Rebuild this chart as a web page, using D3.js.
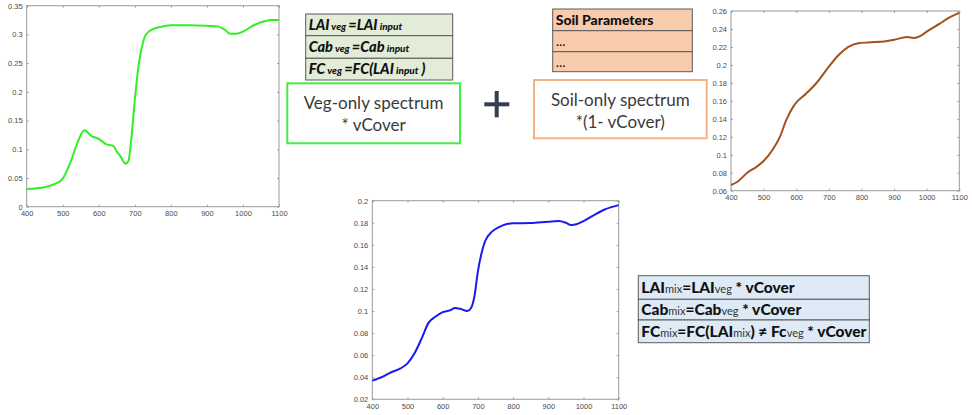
<!DOCTYPE html>
<html><head><meta charset="utf-8">
<script src="https://cdn.jsdelivr.net/npm/d3@7"></script>
<style>
html,body{margin:0;padding:0;background:#fff;}
svg{display:block;}
</style></head>
<body>
<svg id="c" width="972" height="415"></svg>
<script>
// ---------- DATA ----------
const wavelengths_veg = [400,450,480,500,520,540,560,580,600,620,640,650,660,668,675,682,690,700,710,720,730,750,770,800,850,900,930,950,965,980,1000,1030,1060,1080,1100];
const veg_values      = [0.031,0.034,0.040,0.049,0.075,0.110,0.133,0.123,0.118,0.109,0.106,0.096,0.088,0.079,0.075,0.079,0.116,0.186,0.244,0.279,0.299,0.309,0.313,0.316,0.316,0.315,0.314,0.308,0.301,0.301,0.305,0.316,0.323,0.325,0.325];

const wavelengths_soil = [400,420,450,480,500,530,550,570,590,600,630,660,700,730,760,790,820,870,900,940,960,980,1000,1040,1070,1100];
const soil_values      = [0.0663,0.070,0.080,0.087,0.093,0.107,0.120,0.139,0.153,0.158,0.168,0.179,0.198,0.211,0.220,0.224,0.225,0.226,0.228,0.231,0.230,0.232,0.237,0.246,0.253,0.258];

const wavelengths_mix = [400,430,450,480,500,520,540,560,580,600,620,635,650,670,680,690,700,710,720,740,760,780,800,850,900,930,950,965,980,1000,1030,1060,1100];
const mix_values      = [0.0369,0.0405,0.044,0.048,0.0526,0.0617,0.075,0.0895,0.095,0.099,0.1006,0.1028,0.102,0.100,0.1025,0.113,0.136,0.152,0.163,0.172,0.176,0.1786,0.1795,0.1797,0.181,0.1816,0.180,0.178,0.1786,0.1815,0.187,0.192,0.196];

const xTicks = [400,500,600,700,800,900,1000,1100];
const vegYTicks  = [0,0.05,0.1,0.15,0.2,0.25,0.3,0.35];
const soilYTicks = [0.06,0.08,0.1,0.12,0.14,0.16,0.18,0.2,0.22,0.24,0.26];
const mixYTicks  = [0.02,0.04,0.06,0.08,0.1,0.12,0.14,0.16,0.18,0.2];

const vegTableRows  = [["LAI","veg","=LAI","input",""],["Cab","veg","=Cab","input",""],["FC","veg","=FC(LAI","input"," )"]];
const soilTableRows = ["Soil Parameters","...","..."];
const mixTableRows  = [
  [["LAI",0],["mix",1],["=LAI",0],["veg",1],[" * vCover",0]],
  [["Cab",0],["mix",1],["=Cab",0],["veg",1],[" * vCover",0]],
  [["FC",0],["mix",1],["=FC(LAI",0],["mix",1],[") \u2260 Fc",0],["veg",1],[" * vCover",0]]
];

// ---------- DRAW ----------
const svg = d3.select("#c");
const font = "Lato, 'Open Sans', sans-serif";

function chart(box, xs, ys, yDomain, yTicks, color, fmt){
  const x = d3.scaleLinear().domain([400,1100]).range([box.x0, box.x1]);
  const y = d3.scaleLinear().domain(yDomain).range([box.y1, box.y0]);
  const g = svg.append("g");
  g.append("rect").attr("x",box.x0).attr("y",box.y0).attr("width",box.x1-box.x0).attr("height",box.y1-box.y0)
    .attr("fill","#fff").attr("stroke","#9a9a9a").attr("stroke-width",1);
  const axStyle = sel => {
    sel.select(".domain").remove();
    sel.selectAll("line").attr("stroke","#9a9a9a");
    sel.selectAll("text").attr("fill","#4a4a4a").style("font-family","'Liberation Sans', Arial, sans-serif").style("font-size","7.5px");
  };
  g.append("g").attr("transform",`translate(0,${box.y1})`)
    .call(d3.axisBottom(x).tickValues(xTicks).tickSizeInner(-2).tickSizeOuter(0).tickPadding(4).tickFormat(d3.format("d"))).call(axStyle);
  g.append("g").attr("transform",`translate(0,${box.y0})`)
    .call(d3.axisTop(x).tickValues(xTicks).tickSizeInner(-2).tickSizeOuter(0).tickFormat("")).call(axStyle);
  g.append("g").attr("transform",`translate(${box.x0},0)`)
    .call(d3.axisLeft(y).tickValues(yTicks).tickSizeInner(-2).tickSizeOuter(0).tickPadding(4).tickFormat(fmt)).call(axStyle);
  g.append("g").attr("transform",`translate(${box.x1},0)`)
    .call(d3.axisRight(y).tickValues(yTicks).tickSizeInner(-2).tickSizeOuter(0).tickFormat("")).call(axStyle);
  const line = d3.line().x((d,i)=>x(xs[i])).y((d,i)=>y(ys[i])).curve(d3.curveMonotoneX);
  g.append("path").datum(ys).attr("d",line).attr("fill","none").attr("stroke",color).attr("stroke-width",2);
}
const fmt = d => String(+d.toFixed(2));

chart({x0:26.7,x1:279,y0:5.7,y1:206.7}, wavelengths_veg, veg_values, [0,0.35], vegYTicks, "#33ee22", fmt);
chart({x0:731,x1:959.3,y0:11,y1:190.7}, wavelengths_soil, soil_values, [0.06,0.26], soilYTicks, "#a0521e", fmt);
chart({x0:372.3,x1:618.7,y0:200.7,y1:399.3}, wavelengths_mix, mix_values, [0.02,0.2], mixYTicks, "#1a1aee", fmt);

// ---------- veg table ----------
const vt = {x0:305.7,x1:452.7, rows:[14,35.7,58.3,80]};
vegTableRows.forEach((r,i)=>{
  const y0 = vt.rows[i], y1 = vt.rows[i+1];
  svg.append("rect").attr("x",vt.x0).attr("y",y0).attr("width",vt.x1-vt.x0).attr("height",y1-y0)
    .attr("fill","#e2ecd6").attr("stroke","#5a5a5a").attr("stroke-width",1);
  const t = svg.append("text").attr("x",vt.x0+3).attr("y",(y0+y1)/2+5)
    .style("font-family",font).style("font-weight","900").style("font-style","italic").attr("fill","#111");
  r.forEach((s,j)=>{
    if(!s) return;
    t.append("tspan").text((j%2===1? " ":"")+s+(j===1?" ":"")).style("font-size", j%2===1? "10px":"14.5px");
  });
});
// veg box
svg.append("rect").attr("x",287.3).attr("y",83.3).attr("width",172.7).attr("height",60)
  .attr("fill","#fff").attr("stroke","#44ee44").attr("stroke-width",2);
svg.append("text").attr("x",373.6).attr("y",109).attr("text-anchor","middle")
  .style("font-family",font).style("font-size","17px").attr("fill","#3a3a3a").text("Veg-only spectrum");
svg.append("text").attr("x",373.6).attr("y",131).attr("text-anchor","middle")
  .style("font-family",font).style("font-size","17px").attr("fill","#3a3a3a").text("* vCover");

// plus
svg.append("rect").attr("x",484.3).attr("y",102.3).attr("width",25).attr("height",4).attr("fill","#333f50");
svg.append("rect").attr("x",494.7).attr("y",91).attr("width",4).attr("height",26.3).attr("fill","#333f50");

// ---------- soil table ----------
const st = {x0:552.7,x1:692.3, rows:[9,30.7,51.7,71.7]};
soilTableRows.forEach((s,i)=>{
  const y0 = st.rows[i], y1 = st.rows[i+1];
  svg.append("rect").attr("x",st.x0).attr("y",y0).attr("width",st.x1-st.x0).attr("height",y1-y0)
    .attr("fill","#f8cbad").attr("stroke","#5a5a5a").attr("stroke-width",1);
  svg.append("text").attr("x",st.x0+3).attr("y",(y0+y1)/2+5)
    .style("font-family",font).style("font-weight", i===0?"900":"400").style("font-size","14px").attr("fill","#111").text(s);
});
// soil box
svg.append("rect").attr("x",534).attr("y",80).attr("width",172.7).attr("height",58.3)
  .attr("fill","#fff").attr("stroke","#f4b183").attr("stroke-width",2);
svg.append("text").attr("x",620.3).attr("y",106).attr("text-anchor","middle")
  .style("font-family",font).style("font-size","17px").attr("fill","#3a3a3a").text("Soil-only spectrum");
svg.append("text").attr("x",620.3).attr("y",128).attr("text-anchor","middle")
  .style("font-family",font).style("font-size","17px").attr("fill","#3a3a3a").text("*(1- vCover)");

// ---------- mix table ----------
const mt = {x0:638.3,x1:869.3, rows:[275.7,299.3,320,342.7]};
mixTableRows.forEach((r,i)=>{
  const y0 = mt.rows[i], y1 = mt.rows[i+1];
  svg.append("rect").attr("x",mt.x0).attr("y",y0).attr("width",mt.x1-mt.x0).attr("height",y1-y0)
    .attr("fill","#deebf7").attr("stroke","#5a5a5a").attr("stroke-width",1);
  const t = svg.append("text").attr("x",mt.x0+3).attr("y",(y0+y1)/2+5.5)
    .style("font-family",font).style("font-weight","900").attr("fill","#111");
  r.forEach(([s,sub])=>{
    t.append("tspan").text(s).style("font-size", sub? "11px":"15.5px").style("font-weight", sub?"400":"900")
      .attr("fill", sub? "#333":"#111");
  });
});
</script>
</body></html>
